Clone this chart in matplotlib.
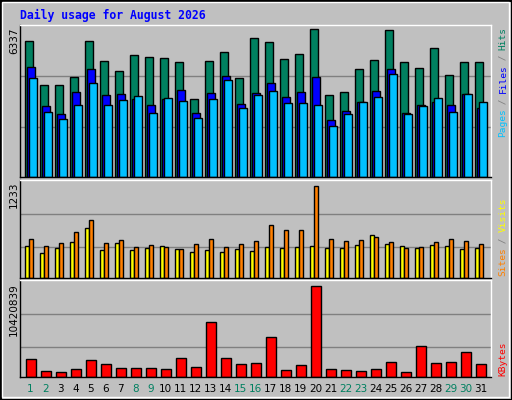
import matplotlib
matplotlib.use("Agg")
import matplotlib.pyplot as plt
import numpy as np
from matplotlib.patches import Rectangle

days = list(range(1, 32))
hits = [5821,3928,3928,4272,5821,4961,4530,5219,5133,5090,4918,3326,4961,5348,4229,5950,
        5778,5047,5262,6337,3498,3627,4617,5004,6294,4918,4660,5520,4358,4918,4918]
files = [4703,3025,2681,3627,4617,3498,3541,3326,3068,3326,3713,2724,3584,4315,3111,3584,
         4014,3412,3627,4272,2423,2810,3197,3670,4617,2724,3068,3197,3068,3541,2939]
pages = [4229,2767,2466,3068,4014,3068,3283,3455,2724,3369,3240,2509,3326,4143,2939,3498,
         3670,3154,3154,3068,2165,2681,3197,3412,4401,2681,3025,3369,2767,3541,3197]
sites = [432,338,405,485,672,378,472,378,405,432,392,352,378,352,392,365,
         418,405,418,432,405,405,445,579,458,432,405,445,432,392,405]
visits = [525,432,472,619,779,472,512,418,445,418,392,458,525,418,458,498,
          712,645,645,1233,525,498,512,552,485,405,418,485,525,498,458]
kbytes = [2016000,723000,609000,951000,1902000,1521000,1065000,1065000,1065000,951000,2206000,
          1179000,6237000,2206000,1521000,1635000,4602000,837000,1407000,10420839,951000,837000,
          723000,951000,1749000,609000,3575000,1635000,1749000,2890000,1521000]
weekend = [1,2,8,9,15,16,22,23,29,30]

W, H = 512, 400
fig = plt.figure(figsize=(W/100, H/100), dpi=100)
fig.patch.set_facecolor("#C0C0C0")
bg = fig.add_axes([0, 0, 1, 1]); bg.set_axis_off()
bg.set_xlim(0, W); bg.set_ylim(H, 0)
bg.add_patch(Rectangle((0.5, 0.5), W-1, H-1, fill=False, ec="black", lw=1.5))
bg.add_patch(Rectangle((2, 2), W-5, H-5, fill=False, ec="white", lw=1))
mono = "DejaVu Sans Mono"
bg.text(20, 15, "Daily usage for August 2026", color="#0000FF", family=mono,
        fontweight="bold", fontsize=8.3, va="center", ha="left")

x0, x1 = 20, 491
xl = (0.297, 0.297 + 471/15)
def panel(ytop, ybot):
    ax = fig.add_axes([x0/W, 1-ybot/H, (x1-x0)/W, (ybot-ytop)/H])
    ax.set_facecolor("#C0C0C0")
    ax.set_xlim(*xl)
    ax.set_xticks([]); ax.set_yticks([])
    for s in ax.spines.values():
        s.set_color("black"); s.set_linewidth(1)
    ax.spines["top"].set_color("white"); ax.spines["right"].set_color("white")
    return ax

d = np.array(days, dtype=float)
kw = dict(edgecolor="black", linewidth=1, align="edge")

# panel 1
ax1 = panel(25, 177)
ymax1 = max(hits) * 152/148
ax1.set_ylim(0, ymax1)
for g in (max(hits)*50/148, max(hits)*101/148):
    ax1.axhline(g, color="#808080", lw=1, zorder=0)
ax1.bar(d-0.35, hits, 0.5, color="#008060", **kw)
ax1.bar(d-0.22, files, 0.5, color="#0000FF", **kw)
ax1.bar(d-0.13, pages, 0.53, color="#00C0FF", **kw)

# panel 2
ax2 = panel(180, 278)
ax2.set_ylim(0, max(visits) * 98/92.3)
for g in (max(visits)*31/92.3, max(visits)*64/92.3):
    ax2.axhline(g, color="#808080", lw=1, zorder=0)
ax2.bar(d-0.35, sites, 0.27, color="#FFFF00", **kw)
ax2.bar(d-0.08, visits, 0.25, color="#FF8000", **kw)

# panel 3
ax3 = panel(280, 377)
ax3.set_ylim(0, max(kbytes) * 97/91.3)
for g in (max(kbytes)*30/91.3, max(kbytes)*63/91.3):
    ax3.axhline(g, color="#808080", lw=1, zorder=0)
ax3.bar(d-0.28, kbytes, 0.66, color="#FF0000", **kw)

# day labels
for dd in days:
    xp = x0 + (dd - xl[0]) * 15
    bg.text(xp, 389, str(dd), ha="center", va="center", fontsize=7.5,
            color="#008060" if dd in weekend else "black")

# left max labels
for txt, ytop in (("6337", 28), ("1233", 181), ("10420839", 283)):
    bg.text(14, ytop, txt, rotation=90, ha="center", va="top", fontsize=7.5, color="black")

# right labels
def rlabel(parts, ybot, step=5.45):
    y = ybot
    for t, c in parts:
        bg.text(503, y, t, rotation=90, ha="center", va="bottom", family=mono,
                fontsize=6.8, color=c)
        y -= step * len(t)
rlabel([("Pages", "#00C0FF"), (" / ", "#808080"), ("Files", "#0000FF"),
        (" / ", "#808080"), ("Hits", "#008060")], 137)
rlabel([("Sites", "#FF8000"), (" / ", "#808080"), ("Visits", "#FFFF00")], 276)
rlabel([("KBytes", "#FF0000")], 376)

fig.savefig("out.png", dpi=100, facecolor=fig.get_facecolor())
